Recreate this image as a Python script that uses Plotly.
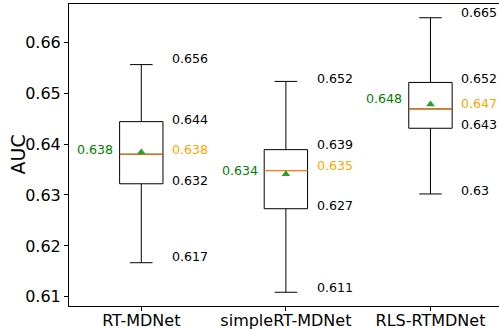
import plotly.graph_objects as go

categories = ["RT-MDNet", "simpleRT-MDNet", "RLS-RTMDNet"]
positions = [1, 2, 3]
lower_whisker = [0.6167, 0.6109, 0.6302]
q1_values = [0.6322, 0.6273, 0.6431]
median_values = [0.6380, 0.6348, 0.6469]
mean_values = [0.6384, 0.6341, 0.6478]
q3_values = [0.6444, 0.6389, 0.6521]
upper_whisker = [0.6556, 0.6523, 0.6648]
y_ticks = [0.61, 0.62, 0.63, 0.64, 0.65, 0.66]
y_title = "AUC"

FONT = "DejaVu Sans"
BOX_W = 0.3

fig = go.Figure()
fig.add_trace(go.Box(
    x=positions, q1=q1_values, median=median_values, q3=q3_values,
    lowerfence=lower_whisker, upperfence=upper_whisker,
    width=BOX_W, whiskerwidth=0.52,
    line=dict(color="black", width=1), fillcolor="rgba(0,0,0,0)",
    boxpoints=False, showlegend=False, hoverinfo="skip",
))

# median lines (orange)
for p, m in zip(positions, median_values):
    fig.add_trace(go.Scatter(x=[p - BOX_W / 2, p + BOX_W / 2], y=[m, m], mode="lines",
                             line=dict(color="#ff7f0e", width=1.2), showlegend=False,
                             hoverinfo="skip"))

# means (green triangles)
fig.add_trace(go.Scatter(x=positions, y=mean_values, mode="markers",
                         marker=dict(symbol="triangle-up", size=7.5, color="#2ca02c"),
                         showlegend=False, hoverinfo="skip"))

annos = []
def lab(x, v, color, anchor):
    r = round(v, 3)
    annos.append(dict(x=x, y=r, xref="x", yref="y", text=str(r), showarrow=False,
                      xanchor=anchor, yanchor="middle", yshift=4.5,
                      font=dict(family=FONT, size=12.6, color=color)))

for i, p in enumerate(positions):
    for v in (upper_whisker[i], q3_values[i], q1_values[i], lower_whisker[i]):
        lab(p + 0.2, v, "black", "left")
    lab(p + 0.2, median_values[i], "#FFA500", "left")
    lab(p - 0.18, mean_values[i], "#008000", "right")

# y-axis title
annos.append(dict(x=0, y=0.5, xref="paper", yref="paper", text=y_title, showarrow=False,
                  textangle=-90, xanchor="center", yanchor="middle", xshift=-51.5,
                  font=dict(family=FONT, size=19, color="black")))

fig.update_layout(
    width=499, height=329,
    margin=dict(l=69, r=0, t=4, b=23, autoexpand=False),
    paper_bgcolor="white", plot_bgcolor="white",
    font=dict(family=FONT, color="black"),
    annotations=annos,
    xaxis=dict(range=[0.5, 3.474], tickvals=positions, ticktext=categories,
               automargin=False, ticklabelstandoff=-4,
               showgrid=False, zeroline=False, showline=True, mirror=True,
               linecolor="black", linewidth=1, ticks="outside", ticklen=4,
               tickcolor="black", tickfont=dict(family=FONT, size=16)),
    yaxis=dict(range=[0.6082, 0.6675], tickvals=y_ticks,
               ticktext=[str(t) for t in y_ticks], automargin=False,
               showgrid=False, zeroline=False, showline=True, mirror=False,
               linecolor="black", linewidth=1, ticks="outside", ticklen=4,
               tickcolor="black", tickfont=dict(family=FONT, size=16)),
)

fig.write_html("out.html", config={"displayModeBar": False},
               post_script="document.body.style.margin='0';document.body.style.overflow='hidden';")
